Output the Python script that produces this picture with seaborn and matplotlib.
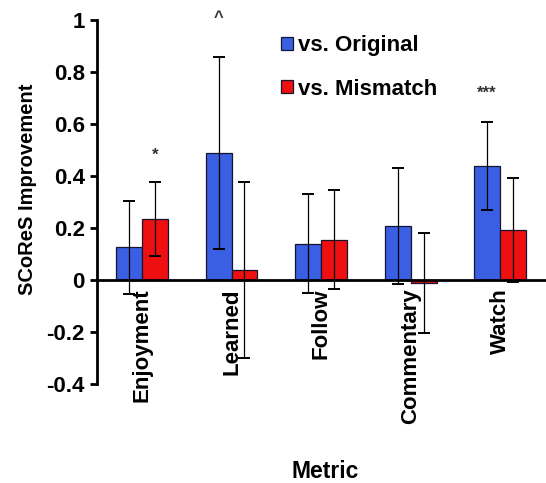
import matplotlib
matplotlib.use("Agg")
import matplotlib.pyplot as plt
import seaborn as sns
import pandas as pd
import numpy as np

metrics = ["Enjoyment", "Learned", "Follow", "Commentary", "Watch"]
series = ["vs. Original", "vs. Mismatch"]
original = [0.125, 0.488, 0.140, 0.207, 0.438]
mismatch = [0.233, 0.038, 0.155, -0.012, 0.192]
original_err = [0.180, 0.370, 0.190, 0.222, 0.170]
mismatch_err = [0.142, 0.337, 0.190, 0.192, 0.200]
marks = [("*", 1), ("^", 0), ("", 0), ("", 0), ("***", 0)]

sns.set_style("white")
plt.rcParams["font.family"] = ["Liberation Sans", "DejaVu Sans"]
plt.rcParams["font.weight"] = "bold"
plt.rcParams["text.color"] = "black"
plt.rcParams["axes.labelcolor"] = "black"
plt.rcParams["xtick.color"] = "black"
plt.rcParams["ytick.color"] = "black"

df = pd.DataFrame({
    "Metric": metrics * 2,
    "series": [series[0]] * 5 + [series[1]] * 5,
    "value": original + mismatch,
    "err": original_err + mismatch_err,
})

fig = plt.figure(figsize=(5.46, 4.83), dpi=100)
ax = fig.add_axes([0.178, 0.205, 0.82, 0.754])

sns.barplot(data=df, x="Metric", y="value", hue="series", order=metrics,
            hue_order=series, palette=["#3A5FE3", "#EE1010"], width=0.58,
            saturation=1, errorbar=None, edgecolor="#151530", linewidth=0.9,
            ax=ax)

# error bars and significance marks on top of each bar
bars = ax.patches[:10]
for i, p in enumerate(bars):
    s, m = divmod(i, 5)
    row = df.iloc[s * 5 + m]
    cx = p.get_x() + p.get_width() / 2
    ax.errorbar(cx, row["value"], yerr=row["err"], fmt="none",
                ecolor="black", elinewidth=0.9, capsize=4, capthick=1.4)
lift = {"*": 0.105, "^": 0.15, "***": 0.11}
for m, (txt, s) in enumerate(marks):
    if not txt:
        continue
    p = bars[s * 5 + m]
    cx = p.get_x() + p.get_width() / 2
    top = df.iloc[s * 5 + m]["value"] + df.iloc[s * 5 + m]["err"]
    ax.text(cx, top + lift[txt], txt, ha="center", va="center", fontsize=12,
            color="#333333", clip_on=False)

ax.set_ylim(-0.4, 1.0)
ax.set_xlim(-0.5, 4.5)
ax.set_yticks([-0.4, -0.2, 0, 0.2, 0.4, 0.6, 0.8, 1.0])
ax.set_yticklabels(["-0.4", "-0.2", "0", "0.2", "0.4", "0.6", "0.8", "1"],
                   fontsize=16, fontweight="bold")
ax.set_xticks(range(5))
ax.set_xticklabels(metrics, fontweight="bold")
ax.set_xticks(np.arange(0.5, 4.5, 1), minor=True)
ax.tick_params(axis="x", which="major", length=0, pad=6, labelrotation=90,
               labelsize=16)
ax.tick_params(axis="x", which="minor", length=5, width=2, direction="out")
ax.tick_params(axis="y", length=5, width=2, direction="out", left=True, pad=4,
               labelsize=16)

for side in ["top", "right"]:
    ax.spines[side].set_visible(False)
ax.spines["bottom"].set_position(("data", 0))
ax.spines["bottom"].set_linewidth(2)
ax.spines["left"].set_linewidth(2)
ax.spines["bottom"].set_color("black")
ax.spines["left"].set_color("black")

ax.set_ylabel("SCoReS Improvement", fontsize=14.5, fontweight="bold")
ax.yaxis.set_label_coords(-0.135, 0.535)
ax.set_xlabel("")
fig.text(0.595, 0.01, "Metric", ha="center", fontsize=16.5, fontweight="bold")

leg = ax.legend(loc="upper left", bbox_to_anchor=(0.365, 1.012), frameon=False,
                fontsize=16, handlelength=0.55, handleheight=0.55,
                handletextpad=0.25, labelspacing=1.0)
for t in leg.get_texts():
    t.set_fontweight("bold")

fig.savefig("out.png", dpi=100)
